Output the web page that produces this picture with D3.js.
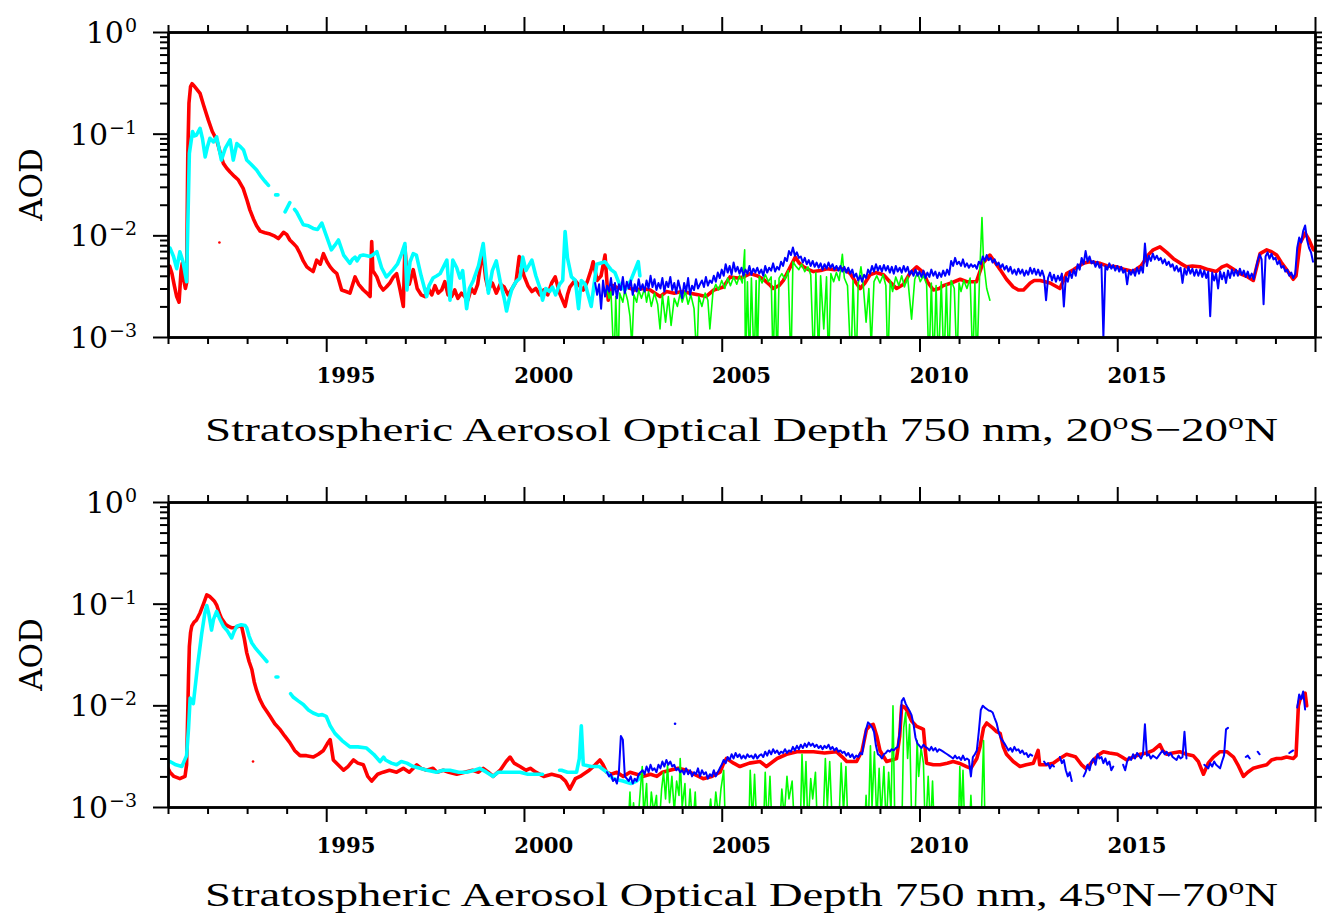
<!DOCTYPE html>
<html><head><meta charset="utf-8">
<script src="https://cdn.jsdelivr.net/npm/d3@7"></script>
<style>body{margin:0;background:#fff}</style>
</head><body><svg id="c" width="1322" height="917"></svg>
<script>
// ---------- DATA (AOD values stored x1000, i.e. 3.0 means 3.0e-3) ----------
const xYears = d3.range(1991, 2021);            // yearly ticks
const xMajorYears = [1995, 2000, 2005, 2010, 2015, 2020];
const xLabelYears = [1995, 2000, 2005, 2010, 2015];
const yMajorExp = [-3, -2, -1, 0];
const titles = ["20\u00b0S\u221220\u00b0N", "45\u00b0N\u221270\u00b0N"];

// Top panel (20S-20N) -- red series [year, AOD*1000]
const redTop = [[1991.00,4.0],[1991.04,5.0],[1991.10,4.2],[1991.16,3.2],[1991.22,2.5],[1991.28,2.2],[1991.33,4.5],[1991.36,5.3],[1991.40,3.6],[1991.44,3.0],[1991.47,3.4],[1991.50,60],[1991.53,200],[1991.57,290],[1991.61,310],[1991.66,295],[1991.74,270],[1991.81,249],[1991.9,190],[1992.02,136],[1992.12,105],[1992.23,87],[1992.32,65],[1992.40,51],[1992.48,46],[1992.57,42],[1992.68,38],[1992.78,35],[1992.9,29],[1993.0,22],[1993.07,17.8],[1993.16,14.5],[1993.24,12.4],[1993.33,11.0],[1993.45,10.6],[1993.58,10.3],[1993.7,9.8],[1993.79,9.3],[1993.86,10.0],[1993.92,10.7],[1994.0,10.2],[1994.08,9.0],[1994.17,8.3],[1994.25,7.7],[1994.34,6.6],[1994.42,5.6],[1994.51,4.9],[1994.6,4.6],[1994.67,4.4],[1994.76,5.7],[1994.85,5.2],[1994.93,6.6],[1995.02,5.5],[1995.10,4.9],[1995.18,4.5],[1995.27,4.2],[1995.33,3.5],[1995.39,2.9],[1995.5,2.8],[1995.6,2.7],[1995.66,3.2],[1995.73,3.9],[1995.82,3.3],[1995.94,2.9],[1996.03,2.7],[1996.11,2.5],[1996.13,5.0],[1996.15,8.7],[1996.18,4.5],[1996.28,3.9],[1996.36,3.2],[1996.44,2.9],[1996.52,3.1],[1996.61,3.4],[1996.7,3.9],[1996.78,4.2],[1996.86,3.0],[1996.95,2.0],[1996.99,7.7],[1997.04,4.2],[1997.1,3.3],[1997.2,4.6],[1997.3,3.0],[1997.4,2.6],[1997.5,2.5],[1997.58,3.0],[1997.67,2.6],[1997.75,3.2],[1997.83,2.7],[1997.92,2.9],[1998.0,3.5],[1998.08,2.6],[1998.17,2.5],[1998.25,2.9],[1998.33,2.4],[1998.42,2.7],[1998.5,2.5],[1998.58,2.3],[1998.67,3.0],[1998.75,2.7],[1998.83,3.3],[1998.92,5.8],[1998.97,6.3],[1999.03,3.8],[1999.1,2.9],[1999.2,3.4],[1999.3,2.7],[1999.4,3.3],[1999.5,3.1],[1999.6,2.6],[1999.7,3.0],[1999.8,3.5],[1999.88,6.2],[1999.93,5.2],[2000.0,4.0],[2000.1,3.2],[2000.2,2.8],[2000.3,3.0],[2000.4,2.6],[2000.5,2.9],[2000.6,2.6],[2000.7,3.4],[2000.79,3.9],[2000.9,2.7],[2001.04,2.0],[2001.1,2.6],[2001.16,3.1],[2001.29,3.6],[2001.4,3.2],[2001.5,2.9],[2001.6,3.5],[2001.7,4.6],[2001.75,5.5],[2001.85,3.6],[2001.95,4.0],[2002.05,6.4],[2002.13,2.3],[2002.25,3.2],[2002.4,3.0],[2002.6,3.1],[2002.8,2.9],[2003.0,3.0],[2003.19,2.9],[2003.44,2.5],[2003.6,2.8],[2003.8,2.7],[2004.0,2.8],[2004.2,2.7],[2004.4,2.6],[2004.6,2.5],[2004.8,2.9],[2005.04,3.1],[2005.21,3.9],[2005.4,3.8],[2005.55,3.9],[2005.72,4.2],[2005.9,4.0],[2006.05,3.7],[2006.2,3.3],[2006.3,3.0],[2006.45,3.2],[2006.56,3.6],[2006.7,4.6],[2006.86,6.1],[2006.95,5.4],[2007.07,4.9],[2007.2,4.6],[2007.32,4.4],[2007.5,4.5],[2007.66,4.7],[2007.85,4.6],[2008.07,4.7],[2008.25,4.2],[2008.4,3.4],[2008.5,3.0],[2008.62,3.4],[2008.75,4.1],[2008.9,4.3],[2009.09,4.1],[2009.25,3.5],[2009.42,3.0],[2009.6,3.3],[2009.75,4.2],[2009.93,4.9],[2010.1,4.3],[2010.2,3.5],[2010.35,2.9],[2010.5,3.0],[2010.6,3.2],[2010.8,3.4],[2011.03,3.7],[2011.2,3.5],[2011.44,3.5],[2011.6,5.3],[2011.78,6.4],[2011.9,5.5],[2012.04,4.6],[2012.2,3.7],[2012.37,3.1],[2012.5,2.9],[2012.63,2.9],[2012.8,3.4],[2012.9,3.6],[2013.05,3.6],[2013.3,3.4],[2013.55,3.0],[2013.72,4.2],[2013.9,4.6],[2014.14,5.3],[2014.3,5.5],[2014.57,5.3],[2014.75,5.0],[2014.98,4.9],[2015.2,4.6],[2015.4,4.4],[2015.6,5.0],[2015.8,6.5],[2015.91,7.2],[2016.08,7.7],[2016.25,6.8],[2016.42,5.9],[2016.6,5.3],[2016.75,4.9],[2016.9,5.0],[2017.09,4.9],[2017.3,4.6],[2017.5,4.4],[2017.65,4.9],[2017.77,5.1],[2017.95,4.6],[2018.1,4.2],[2018.3,3.9],[2018.44,3.6],[2018.52,4.8],[2018.61,6.6],[2018.78,7.2],[2018.9,6.9],[2019.03,6.4],[2019.15,5.4],[2019.28,4.6],[2019.45,3.7],[2019.52,4.0],[2019.62,8.3],[2019.75,10.5],[2019.85,9.0],[2019.96,7.2]];
const redTopDots = [[1992.3,8.5]];

// Top panel cyan series (null = data gap)
const cyanTop = [[1991.0,7.4],[1991.05,7.5],[1991.14,6.2],[1991.22,4.7],[1991.3,6.9],[1991.38,5.5],[1991.47,3.5],[1991.54,64],[1991.62,105],[1991.67,95],[1991.72,97],[1991.81,113],[1991.87,90],[1991.94,59],[1992.0,75],[1992.06,90],[1992.15,83],[1992.23,93],[1992.35,55],[1992.45,72],[1992.57,87],[1992.65,55],[1992.74,80],[1992.82,75],[1992.91,69],[1992.99,55],[1993.1,50],[1993.24,44],[1993.35,38],[1993.45,34],[1993.54,31],[1993.6,null],[1993.72,25],[1993.78,25],[1993.85,null],[1993.96,17],[1994.08,21],[1994.14,null],[1994.2,18],[1994.25,17],[1994.42,12.7],[1994.55,12.4],[1994.67,11.7],[1994.78,11.4],[1994.89,13.2],[1995.0,10.0],[1995.13,7.2],[1995.22,8.0],[1995.31,9.0],[1995.44,6.4],[1995.6,5.3],[1995.66,5.8],[1995.73,6.1],[1995.78,5.6],[1995.86,6.3],[1995.94,6.4],[1996.03,6.3],[1996.11,6.2],[1996.2,6.5],[1996.28,6.9],[1996.4,4.8],[1996.52,3.9],[1996.6,4.2],[1996.69,4.6],[1996.8,5.2],[1996.9,6.5],[1996.99,8.3],[1997.04,2.9],[1997.12,5.5],[1997.2,6.6],[1997.28,6.4],[1997.4,4.0],[1997.54,2.5],[1997.6,3.2],[1997.7,3.8],[1997.8,4.0],[1997.88,4.2],[1998.05,5.7],[1998.13,2.3],[1998.2,5.7],[1998.3,4.8],[1998.38,3.8],[1998.45,4.5],[1998.55,1.9],[1998.62,3.0],[1998.72,3.6],[1998.85,5.0],[1998.97,8.3],[1999.05,4.0],[1999.1,2.7],[1999.2,4.5],[1999.3,5.6],[1999.4,3.5],[1999.5,2.4],[1999.56,1.8],[1999.63,2.4],[1999.7,3.0],[1999.8,3.5],[1999.9,3.8],[1999.97,6.1],[2000.05,4.5],[2000.2,5.7],[2000.3,4.0],[2000.42,2.9],[2000.47,2.3],[2000.55,3.0],[2000.65,2.8],[2000.72,3.1],[2000.8,2.6],[2000.9,3.3],[2000.98,3.6],[2001.04,10.9],[2001.1,6.0],[2001.2,3.9],[2001.3,3.6],[2001.38,1.9],[2001.45,3.6],[2001.55,3.3],[2001.7,2.0],[2001.84,5.2],[2002.05,5.5],[2002.2,4.6],[2002.3,4.3],[2002.43,3.2],[2002.55,2.9],[2002.7,3.6],[2002.89,5.5],[2002.93,4.0]];

// Top panel blue series: evenly spaced, start 2001.80, step 0.05 yr
const blueTopStart = 2001.80, blueTopStep = 0.05;
const blueTop = [3.4,2.6,3.3,1.9,
3.6,2.5,3.2,2.8,3.8,2.6,3.4,2.4,3.3,2.9,3.9,2.7,3.5,3.0,3.6,2.6,3.3,2.8,3.7,2.9,
3.3,2.8,3.6,3.0,4.0,3.1,3.7,2.9,3.4,3.0,3.8,2.8,3.5,3.1,3.9,2.9,3.4,2.7,3.6,3.0,
2.4,3.4,2.8,3.8,2.6,3.2,2.9,3.7,3.0,3.3,3.6,3.1,3.9,3.2,3.6,3.4,4.0,3.5,4.3,3.8,
4.6,4.0,5.2,4.3,5.0,4.1,5.4,4.4,4.9,4.2,4.8,4.0,4.6,4.2,5.0,4.1,4.7,4.3,4.8,4.2,
4.6,4.0,5.0,4.3,4.8,4.5,5.3,4.4,4.9,4.6,5.5,5.0,6.0,5.6,7.0,6.4,7.6,6.3,6.8,6.0,
6.2,5.4,6.0,5.2,5.7,5.0,5.6,4.9,5.4,4.8,5.3,4.6,5.2,4.7,5.4,4.8,5.2,4.6,5.0,4.5,
5.0,4.4,4.9,4.3,4.8,4.2,4.6,3.9,4.2,3.6,4.0,3.5,4.1,3.8,4.6,4.2,5.0,4.4,5.2,4.5,
5.0,4.4,5.1,4.5,5.0,4.3,4.9,4.2,5.0,4.4,4.8,4.3,5.0,4.4,4.9,4.1,4.5,4.0,4.6,4.0,
4.4,3.9,4.5,3.8,4.3,3.9,4.6,4.0,4.4,3.8,4.3,3.9,4.5,4.0,4.6,4.1,5.6,5.0,6.0,5.2,
5.5,5.0,5.8,4.9,5.3,4.8,5.2,4.9,5.1,4.7,5.5,5.2,6.2,5.6,6.4,5.7,6.0,5.4,5.8,5.1,
5.4,4.8,5.2,4.6,5.0,4.4,4.9,4.2,4.6,4.1,4.7,4.2,4.6,4.0,4.5,4.1,4.8,4.2,4.7,4.1,
4.6,4.0,4.5,3.9,2.3,3.8,4.3,3.6,4.1,3.5,4.0,3.6,4.2,2.0,3.9,3.5,4.4,3.8,4.6,4.0,
5.2,4.6,6.0,5.2,7.0,5.5,6.2,5.3,5.6,4.9,5.5,4.8,5.2,1.0,5.0,4.6,5.3,4.7,5.1,4.5,
5.0,4.4,4.9,4.3,4.6,3.3,4.5,4.1,4.6,4.0,4.8,4.2,4.9,4.3,8.3,5.0,6.3,5.6,6.6,5.8,
6.3,5.7,6.0,5.3,5.8,5.1,5.5,4.9,5.2,4.5,5.0,4.4,4.8,3.4,4.7,4.1,4.9,4.2,4.7,4.0,
4.6,4.0,4.6,3.9,4.5,3.8,4.4,1.6,4.3,3.6,4.2,3.0,4.4,3.7,4.3,3.4,4.5,3.8,4.6,4.0,
4.6,4.0,4.7,4.1,4.5,3.9,4.4,3.8,4.2,3.7,4.6,5.6,6.5,5.8,2.1,6.2,6.8,5.9,6.6,5.8,
6.0,5.2,5.6,4.8,5.0,4.4,4.6,4.0,4.3,3.8,4.2,7.5,9.5,8.5,11.0,12.5,9.0,7.5,6.8,5.5];

// Top panel green series [year, AOD*1000] (values < 1 fall below the axis)
const greenTop = [[2002.0,3.2],[2002.05,2.6],[2002.1,3.0],[2002.15,2.4],[2002.2,2.8],[2002.28,0.5],[2002.32,2.5],[2002.38,0.5],[2002.42,2.7],[2002.5,2.2],[2002.55,2.9],[2002.62,2.3],[2002.68,1.6],[2002.73,0.8],[2002.78,2.6],[2002.85,2.2],[2002.9,2.9],[2002.97,2.4],[2003.05,3.0],[2003.1,2.2],[2003.15,2.8],[2003.22,2.0],[2003.3,2.7],[2003.38,2.1],[2003.44,1.2],[2003.5,2.6],[2003.58,1.4],[2003.65,2.5],[2003.72,1.3],[2003.8,2.4],[2003.88,2.0],[2003.95,2.7],[2004.0,2.2],[2004.08,2.8],[2004.15,2.1],[2004.22,2.6],[2004.3,1.9],[2004.37,0.6],[2004.42,2.5],[2004.5,2.0],[2004.58,2.7],[2004.65,2.3],[2004.7,1.2],[2004.78,2.8],[2004.85,3.3],[2004.92,2.9],[2005.0,3.6],[2005.08,3.0],[2005.15,3.8],[2005.22,3.2],[2005.3,3.9],[2005.38,3.3],[2005.45,4.0],[2005.52,3.4],[2005.58,7.2],[2005.6,0.5],[2005.65,3.5],[2005.7,0.5],[2005.75,3.8],[2005.82,0.5],[2005.87,3.6],[2005.9,0.6],[2005.95,3.9],[2006.02,3.4],[2006.1,4.1],[2006.18,3.5],[2006.25,3.9],[2006.3,0.5],[2006.35,3.6],[2006.4,0.5],[2006.45,3.8],[2006.52,4.2],[2006.6,3.7],[2006.68,4.5],[2006.75,0.5],[2006.8,5.5],[2006.87,5.0],[2006.95,4.6],[2007.02,5.2],[2007.1,4.4],[2007.18,4.9],[2007.25,4.1],[2007.33,0.5],[2007.38,4.3],[2007.45,0.6],[2007.5,4.0],[2007.58,1.2],[2007.65,3.9],[2007.7,0.5],[2007.76,4.2],[2007.83,3.5],[2007.9,4.3],[2007.97,3.6],[2008.05,6.5],[2008.1,3.8],[2008.18,3.2],[2008.27,0.5],[2008.32,3.6],[2008.4,0.5],[2008.45,3.3],[2008.52,4.9],[2008.58,3.2],[2008.65,1.4],[2008.72,3.0],[2008.78,0.8],[2008.85,3.5],[2008.92,4.0],[2009.0,3.4],[2009.08,4.1],[2009.15,3.2],[2009.2,0.5],[2009.26,3.6],[2009.32,2.8],[2009.4,3.9],[2009.48,3.2],[2009.55,4.0],[2009.62,3.1],[2009.7,3.9],[2009.8,1.5],[2009.88,3.7],[2009.95,4.3],[2010.02,3.5],[2010.1,4.0],[2010.18,3.3],[2010.24,0.5],[2010.3,3.4],[2010.36,0.5],[2010.42,3.2],[2010.48,0.5],[2010.55,3.5],[2010.62,0.5],[2010.68,3.3],[2010.74,0.5],[2010.8,3.6],[2010.88,3.0],[2010.95,0.5],[2011.0,3.4],[2011.05,2.8],[2011.12,3.6],[2011.2,3.0],[2011.28,3.8],[2011.35,0.5],[2011.4,3.5],[2011.45,0.5],[2011.52,4.0],[2011.58,15],[2011.62,5.5],[2011.7,3.0],[2011.78,2.3]];

// Bottom panel (45N-70N)
const redBot = [[1991.0,2.4],[1991.05,2.2],[1991.15,2.0],[1991.3,1.9],[1991.43,2.0],[1991.47,2.6],[1991.49,5.8],[1991.52,20],[1991.54,38],[1991.57,52],[1991.6,60],[1991.66,66],[1991.72,69],[1991.81,81],[1991.9,100],[1991.98,122],[1992.05,118],[1992.1,113],[1992.18,105],[1992.23,97],[1992.3,80],[1992.35,72],[1992.45,63],[1992.52,60],[1992.6,58],[1992.69,58],[1992.78,60],[1992.86,60],[1992.93,45],[1992.99,33],[1993.05,27],[1993.12,22.5],[1993.18,17],[1993.24,14],[1993.32,11.5],[1993.41,9.8],[1993.5,8.7],[1993.58,7.8],[1993.7,6.6],[1993.83,5.8],[1993.95,5.0],[1994.08,4.3],[1994.2,3.6],[1994.34,3.2],[1994.5,3.2],[1994.67,3.1],[1994.8,3.3],[1994.93,3.6],[1995.03,4.2],[1995.1,4.6],[1995.18,2.9],[1995.3,2.6],[1995.44,2.3],[1995.55,2.5],[1995.69,2.9],[1995.8,2.7],[1995.94,2.6],[1996.05,2.0],[1996.15,1.8],[1996.3,2.1],[1996.44,2.2],[1996.6,2.3],[1996.78,2.2],[1996.95,2.4],[1997.1,2.2],[1997.29,2.6],[1997.4,2.4],[1997.54,2.3],[1997.7,2.4],[1997.8,2.2],[1997.96,2.3],[1998.1,2.2],[1998.3,2.1],[1998.5,2.2],[1998.7,2.3],[1998.85,2.2],[1998.97,2.4],[1999.1,2.2],[1999.22,2.0],[1999.4,2.3],[1999.55,2.8],[1999.65,3.1],[1999.75,2.7],[1999.9,2.5],[2000.05,2.3],[2000.16,2.4],[2000.3,2.2],[2000.5,2.0],[2000.7,2.1],[2000.92,2.0],[2001.05,1.8],[2001.16,1.5],[2001.3,1.9],[2001.42,2.0],[2001.5,2.1],[2001.65,2.3],[2001.8,2.6],[2001.92,2.9],[2002.0,2.6],[2002.09,2.2],[2002.2,2.1],[2002.35,2.2],[2002.51,2.0],[2002.68,2.2],[2002.85,2.1],[2003.02,2.0],[2003.2,2.1],[2003.36,2.0],[2003.5,2.2],[2003.69,2.3],[2003.9,2.4],[2004.11,2.3],[2004.3,2.1],[2004.53,1.9],[2004.75,2.0],[2004.96,2.2],[2005.05,2.7],[2005.12,3.0],[2005.3,2.7],[2005.46,2.5],[2005.7,2.7],[2005.97,2.8],[2006.13,2.5],[2006.4,3.0],[2006.64,3.3],[2006.9,3.5],[2007.1,3.5],[2007.32,3.5],[2007.6,3.4],[2007.9,3.5],[2008.05,3.1],[2008.16,2.8],[2008.41,2.8],[2008.55,3.6],[2008.66,5.8],[2008.75,6.3],[2008.83,6.5],[2008.92,5.0],[2009.0,3.6],[2009.17,2.8],[2009.3,2.9],[2009.42,3.0],[2009.5,5.0],[2009.55,9.9],[2009.62,9.6],[2009.67,9.1],[2009.8,7.0],[2009.93,6.2],[2010.02,6.0],[2010.1,5.8],[2010.15,3.5],[2010.18,2.7],[2010.35,2.6],[2010.52,2.6],[2010.7,2.7],[2010.85,2.8],[2011.0,2.7],[2011.19,2.5],[2011.3,2.4],[2011.45,3.0],[2011.53,3.9],[2011.62,6.0],[2011.7,6.7],[2011.85,6.0],[2011.95,5.5],[2012.04,5.3],[2012.12,3.9],[2012.2,3.3],[2012.37,2.8],[2012.54,2.5],[2012.7,2.6],[2012.88,2.7],[2013.0,3.6],[2013.04,2.6],[2013.2,2.6],[2013.38,2.7],[2013.55,3.0],[2013.72,3.3],[2013.85,3.2],[2013.95,3.1],[2014.1,2.6],[2014.2,2.4],[2014.3,2.6],[2014.4,2.9],[2014.55,3.3],[2014.65,3.5],[2014.8,3.4],[2015.0,3.3],[2015.12,3.1],[2015.24,2.9],[2015.4,3.1],[2015.58,3.3],[2015.75,3.4],[2015.91,3.6],[2016.08,4.1],[2016.15,3.6],[2016.25,3.3],[2016.4,3.4],[2016.58,3.5],[2016.75,3.3],[2016.92,3.2],[2017.05,2.8],[2017.18,2.1],[2017.3,2.7],[2017.43,3.1],[2017.6,3.5],[2017.77,3.5],[2017.94,3.1],[2018.05,2.6],[2018.19,2.0],[2018.3,2.2],[2018.44,2.4],[2018.6,2.5],[2018.78,2.6],[2018.9,2.9],[2019.03,3.0],[2019.15,3.0],[2019.28,3.1],[2019.45,3.0],[2019.52,3.2],[2019.58,9.9],[2019.62,11.4],[2019.7,12.5],[2019.75,13.2],[2019.79,9.9]];
const redBotDots = [[1993.15,2.8]];

const cyanBot = [[1991.0,2.8],[1991.05,2.8],[1991.2,2.6],[1991.35,2.5],[1991.47,3.2],[1991.52,6],[1991.56,11.8],[1991.64,10.4],[1991.75,25],[1991.85,50],[1991.93,80],[1991.98,96],[1992.03,80],[1992.1,55],[1992.15,70],[1992.23,84],[1992.3,72],[1992.4,60],[1992.5,54],[1992.61,46],[1992.67,53],[1992.74,60],[1992.85,62],[1992.95,61],[1992.99,58],[1993.05,48],[1993.12,41],[1993.2,37],[1993.28,34],[1993.4,30],[1993.5,27],[1993.6,null],[1993.73,19],[1993.78,19],[1993.9,null],[1994.1,13],[1994.17,12],[1994.3,11],[1994.42,10.2],[1994.55,9.0],[1994.67,8.4],[1994.8,8.0],[1994.9,8.1],[1995.0,7.8],[1995.1,6.3],[1995.22,5.3],[1995.4,4.5],[1995.6,3.9],[1995.8,3.9],[1996.02,3.8],[1996.2,3.3],[1996.36,2.8],[1996.45,3.1],[1996.5,2.9],[1996.65,2.7],[1996.78,2.6],[1996.9,2.8],[1997.04,2.7],[1997.2,2.5],[1997.37,2.4],[1997.55,2.3],[1997.79,2.2],[1997.95,2.3],[1998.13,2.3],[1998.35,2.2],[1998.55,2.2],[1998.75,2.3],[1998.88,2.4],[1999.05,2.2],[1999.22,2.0],[1999.35,2.2],[1999.47,2.2],[1999.7,2.2],[1999.9,2.2],[2000.1,2.1],[2000.33,2.1],[2000.47,2.1],[2000.6,null],[2000.9,2.3],[2000.95,2.3],[2001.1,2.2],[2001.33,2.2],[2001.4,3],[2001.45,6.3],[2001.5,2.6],[2001.7,2.5],[2001.9,2.5],[2002.1,2.2],[2002.25,1.9],[2002.5,1.8],[2002.7,1.7],[2002.85,1.8],[2002.97,2.0]];

// Bottom panel blue: evenly spaced, start 2002.10, step 0.05 yr (null = gap)
const blueBotStart = 2002.10, blueBotStep = 0.05;
const blueBot = [2.2,2.0,2.1,1.8,1.9,1.7,2.2,5.0,4.6,2.0,1.9,1.8,2.0,1.7,1.9,1.8,2.1,2.2,
2.3,2.1,2.5,2.2,2.6,2.3,2.4,2.2,2.6,2.4,2.8,2.5,2.9,2.6,2.8,2.5,2.6,2.3,2.4,2.2,
2.3,2.1,2.4,2.1,2.3,2.0,2.2,2.1,2.4,2.0,2.3,2.1,2.2,1.9,2.1,2.0,2.3,2.0,2.2,2.4,
2.6,2.9,2.7,3.1,2.9,3.3,3.0,3.4,3.1,3.3,3.0,3.2,3.0,3.3,3.1,3.2,3.0,3.3,3.0,3.2,
3.3,3.1,3.5,3.2,3.6,3.3,3.7,3.4,3.6,3.3,3.5,3.4,3.7,3.4,3.6,3.5,3.9,3.6,4.0,3.7,
4.1,3.8,4.2,3.9,4.3,4.0,4.2,3.9,4.1,3.8,4.0,3.7,4.0,3.8,4.1,3.7,3.9,3.6,3.8,3.5,
3.6,3.4,3.5,3.2,3.4,3.1,3.3,3.0,3.2,3.1,3.4,3.3,4.5,5.8,6.8,6.5,6.1,5.5,4.0,3.3,
3.2,3.0,3.3,3.4,3.6,3.5,3.7,3.6,3.8,3.9,5.5,11.0,11.8,10.4,9.5,8.8,8.0,6.5,4.8,4.2,
4.0,3.8,4.1,3.9,3.8,3.6,3.9,3.6,3.8,3.5,3.7,3.6,3.5,3.4,3.3,3.2,3.1,3.0,3.2,3.0,
3.1,2.9,3.2,2.9,3.0,2.9,2.0,3.1,3.3,3.6,5.5,9.0,9.9,9.5,9.2,8.9,8.8,8.5,7.5,6.7,
5.5,4.8,4.5,4.2,3.9,3.6,3.8,3.5,3.9,3.6,3.7,3.4,3.6,3.3,3.4,3.1,3.3,3.2,null,null,
null,null,null,2.8,2.6,2.7,2.4,2.6,2.5,null,null,3.1,2.7,2.9,2.3,2.0,2.2,1.8,null,null,
null,null,null,2.0,2.2,2.6,2.3,2.8,3.0,2.6,3.3,3.0,3.1,2.7,3.0,2.6,2.8,2.3,2.5,null,
null,null,null,2.6,2.3,2.8,3.1,2.9,3.3,3.0,3.4,3.2,3.0,3.3,6.5,3.2,3.3,3.0,3.2,3.1,
3.0,3.2,3.4,3.6,3.3,3.5,3.2,3.4,3.1,3.0,2.9,3.2,3.0,3.1,5.5,3.0,null,null,null,null,
null,null,null,null,2.6,2.5,2.4,2.7,2.5,2.8,2.6,2.5,2.4,2.8,3.2,5.8,6.0,null,null,null,
null,null,null,null,null,3.1,3.2,3.0,null,null,null,3.5,3.3,null,null,null,null,null,null,null,
null,null,null,null,null,null,null,3.4,3.5,3.6,null,9.5,12.8,11.5,13.7,9.1];

const greenBot = [[2002.62,0.5],[2002.68,1.4],[2002.72,0.6],[2002.77,1.1],[2002.85,0.5],[2002.95,1.6],[2002.99,2.5],[2003.03,0.8],[2003.1,1.7],[2003.15,0.5],[2003.22,1.4],[2003.28,0.9],[2003.35,1.3],[2003.4,0.5],[2003.48,1.5],[2003.53,2.2],[2003.58,1.2],[2003.63,2.6],[2003.68,1.1],[2003.74,2.0],[2003.8,0.9],[2003.86,1.8],[2003.92,1.3],[2003.95,3.0],[2004.0,1.0],[2004.07,1.7],[2004.12,0.5],[2004.2,1.5],[2004.27,0.6],[2004.33,1.4],[2004.38,0.5],[2004.62,0.5],[2004.72,1.2],[2004.78,0.6],[2004.85,1.4],[2004.92,0.8],[2004.98,1.5],[2005.05,2.3],[2005.1,0.5],[2005.68,0.5],[2005.72,2.3],[2005.78,0.7],[2005.83,2.1],[2005.9,0.5],[2006.05,0.5],[2006.1,2.2],[2006.15,0.6],[2006.22,2.0],[2006.28,0.5],[2006.45,0.5],[2006.52,1.5],[2006.58,0.8],[2006.65,2.0],[2006.7,1.2],[2006.78,1.8],[2006.85,0.5],[2006.98,0.5],[2007.03,3.3],[2007.08,1.0],[2007.13,2.8],[2007.18,0.6],[2007.25,1.9],[2007.3,1.2],[2007.37,2.2],[2007.42,0.6],[2007.55,0.5],[2007.62,3.0],[2007.67,1.0],[2007.73,2.8],[2007.8,0.6],[2007.95,0.5],[2008.02,2.7],[2008.08,0.9],[2008.14,2.5],[2008.2,0.5],[2008.6,0.5],[2008.65,1.3],[2008.7,0.5],[2008.76,4.0],[2008.8,1.0],[2008.86,3.5],[2008.92,0.7],[2008.98,2.4],[2009.03,0.8],[2009.1,2.5],[2009.16,0.6],[2009.22,2.2],[2009.28,0.9],[2009.33,9.9],[2009.37,1.0],[2009.45,0.5],[2009.55,0.5],[2009.6,6.0],[2009.65,8.5],[2009.7,3.0],[2009.75,6.5],[2009.8,0.8],[2009.88,0.5],[2009.94,4.5],[2009.98,2.0],[2010.04,3.8],[2010.1,2.7],[2010.15,0.5],[2010.22,2.0],[2010.28,0.6],[2010.33,1.8],[2010.38,0.5],[2010.98,0.5],[2011.02,2.5],[2011.06,0.8],[2011.1,2.3],[2011.15,0.5],[2011.25,0.5],[2011.3,1.3],[2011.35,0.5],[2011.55,0.5],[2011.62,4.5],[2011.66,0.5]];
const blueBotDots = [[2003.82,6.6]];

// ---------- DRAWING ----------
const W = 1322, H = 917;
const svg = d3.select('#c');
svg.append('rect').attr('width', W).attr('height', H).attr('fill', '#fff');

const x = d3.scaleLinear().domain([1991, 2020]).range([168, 1315]);
const toAOD = v => (v == null ? null : v / 1000);
const pairs = arr => arr.map(d => [d[0], toAOD(d[1])]);
const even = (arr, start, step) => arr.map((v, i) => [start + i * step, toAOD(v)]);

const panels = [
  { y0: 32, y1: 337, title: titles[0], titleY: 441,
    series: [
      { data: pairs(redTop), color: '#ff0000', w: 3.6 },
      { data: pairs(cyanTop), color: '#00ffff', w: 3.6 },
      { data: pairs(greenTop), color: '#00ff00', w: 1.6 },
      { data: even(blueTop, blueTopStart, blueTopStep), color: '#0000ff', w: 2.0 }
    ],
    dots: [{ data: pairs(redTopDots), color: '#ff0000' }]
  },
  { y0: 502, y1: 807, title: titles[1], titleY: 906,
    series: [
      { data: pairs(redBot), color: '#ff0000', w: 3.6 },
      { data: pairs(cyanBot), color: '#00ffff', w: 3.6 },
      { data: pairs(greenBot), color: '#00ff00', w: 1.6 },
      { data: even(blueBot, blueBotStart, blueBotStep), color: '#0000ff', w: 2.0 }
    ],
    dots: [{ data: pairs(redBotDots), color: '#ff0000' }, { data: pairs(blueBotDots), color: '#0000ff' }]
  }
];

const minorY = [];
yMajorExp.slice(0, -1).forEach(e => { for (let k = 2; k <= 9; k++) minorY.push(k * Math.pow(10, e)); });
const majorY = yMajorExp.map(e => Math.pow(10, e));

panels.forEach((p, pi) => {
  const y = d3.scaleLog().domain([1e-3, 1]).range([p.y1, p.y0]);
  const g = svg.append('g');
  const clipId = 'clip' + pi;
  svg.append('clipPath').attr('id', clipId).append('rect')
    .attr('x', x.range()[0]).attr('y', p.y0)
    .attr('width', x.range()[1] - x.range()[0]).attr('height', p.y1 - p.y0);

  const plot = g.append('g').attr('clip-path', `url(#${clipId})`);
  const line = d3.line()
    .defined(d => d[1] != null)
    .x(d => x(d[0])).y(d => y(d[1]));
  p.series.forEach(s => {
    plot.append('path').datum(s.data)
      .attr('d', line).attr('fill', 'none')
      .attr('stroke', s.color).attr('stroke-width', s.w)
      .attr('stroke-linejoin', 'round').attr('stroke-linecap', 'round');
  });
  p.dots.forEach(s => {
    plot.selectAll(null).data(s.data).enter().append('circle')
      .attr('cx', d => x(d[0])).attr('cy', d => y(d[1])).attr('r', 1.3).attr('fill', s.color);
  });

  // axes
  const axG = g.append('g').attr('class', 'ax');
  const addAxis = (gen, tr) => {
    const a = axG.append('g').attr('transform', tr).call(gen);
    a.selectAll('text').remove();
    a.select('.domain').attr('stroke-width', 2.4);
    a.selectAll('.tick line').attr('stroke-width', 2);
    return a;
  };
  const minorYears = xYears.filter(v => !xMajorYears.includes(v));
  addAxis(d3.axisBottom(x).tickValues(minorYears).tickSize(7).tickSizeOuter(0), `translate(0,${p.y1})`);
  addAxis(d3.axisBottom(x).tickValues(xMajorYears).tickSize(15).tickSizeOuter(0), `translate(0,${p.y1})`);
  addAxis(d3.axisTop(x).tickValues(minorYears).tickSize(7).tickSizeOuter(0), `translate(0,${p.y0})`);
  addAxis(d3.axisTop(x).tickValues(xMajorYears).tickSize(15).tickSizeOuter(0), `translate(0,${p.y0})`);
  addAxis(d3.axisLeft(y).tickValues(minorY).tickSize(8).tickSizeOuter(0), `translate(${x.range()[0]},0)`);
  addAxis(d3.axisLeft(y).tickValues(majorY).tickSize(15).tickSizeOuter(0), `translate(${x.range()[0]},0)`);
  addAxis(d3.axisRight(y).tickValues(minorY).tickSize(8).tickSizeOuter(0), `translate(${x.range()[1]},0)`);
  addAxis(d3.axisRight(y).tickValues(majorY).tickSize(15).tickSizeOuter(0), `translate(${x.range()[1]},0)`);

  // x labels (centered mid-year)
  g.selectAll(null).data(xLabelYears).enter().append('text')
    .attr('x', d => x(d + 0.5)).attr('y', p.y1 + 46)
    .attr('text-anchor', 'middle')
    .attr('font-family', 'DejaVu Serif').attr('font-weight', 'bold').attr('font-size', 23)
    .attr('textLength', 59).attr('lengthAdjust', 'spacingAndGlyphs')
    .text(d => d);

  // y labels 10^n
  yMajorExp.forEach(e => {
    const yy = y(Math.pow(10, e));
    const sup = e === 0 ? '0' : '\u2212' + Math.abs(e);
    const t = g.append('text').attr('x', 137).attr('y', yy + 11)
      .attr('text-anchor', 'end').attr('font-family', 'DejaVu Serif').attr('font-size', 30);
    t.append('tspan').text('10');
    t.append('tspan').attr('font-size', 19).attr('dy', -11).attr('dx', 1).text(sup);
  });

  // y axis title
  g.append('text')
    .attr('transform', `translate(42,${(p.y0 + p.y1) / 2}) rotate(-90)`)
    .attr('text-anchor', 'middle').attr('font-family', 'DejaVu Serif').attr('font-size', 31)
    .text('AOD');

  // panel title
  const tt = g.append('text').attr('x', 205).attr('y', p.titleY)
    .attr('font-family', 'Liberation Serif').attr('font-size', 34)
    .attr('textLength', 1073).attr('lengthAdjust', 'spacingAndGlyphs');
  const parts = p.title.split('\u00b0');
  tt.append('tspan').text('Stratospheric Aerosol Optical Depth 750 nm, ' + parts[0]);
  tt.append('tspan').attr('dy', -12).attr('font-size', 23).text('o');
  tt.append('tspan').attr('dy', 12).text(parts[1]);
  tt.append('tspan').attr('dy', -12).attr('font-size', 23).text('o');
  tt.append('tspan').attr('dy', 12).text(parts[2]);
});
</script>
</body></html>
